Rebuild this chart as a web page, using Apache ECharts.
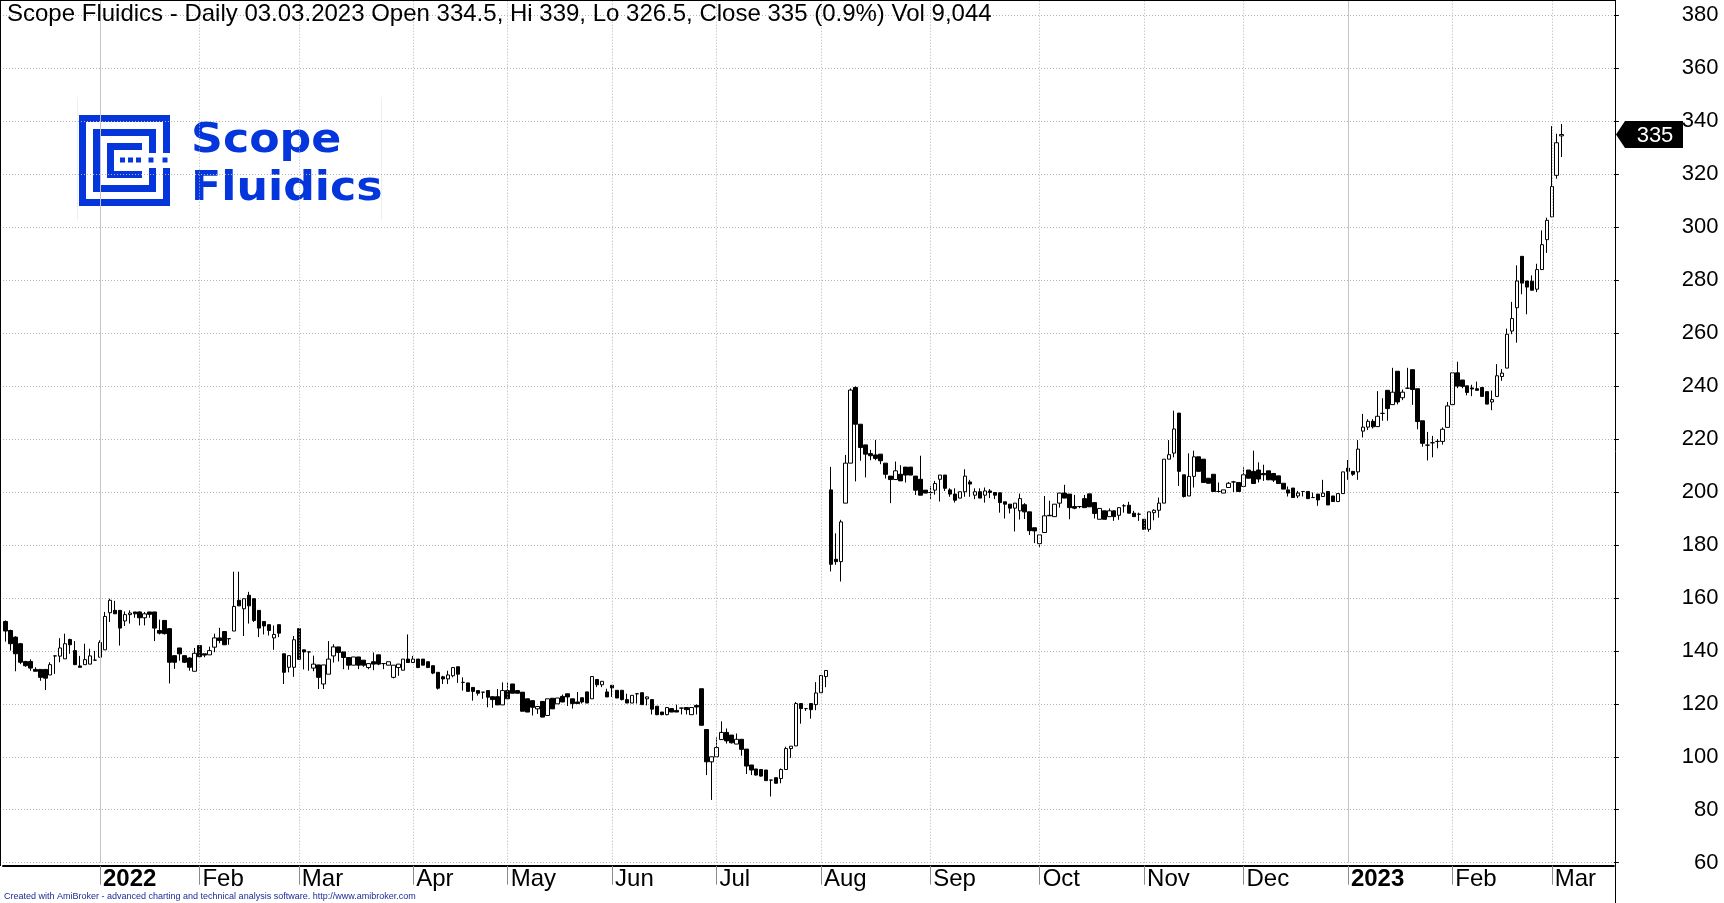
<!DOCTYPE html>
<html>
<head>
<meta charset="utf-8">
<script src="https://cdn.jsdelivr.net/npm/echarts/dist/echarts.min.js"></script>
<style>
html,body{margin:0;padding:0;background:#fff;}
#chart{width:1724px;height:903px;}
</style>
</head>
<body>
<div id="chart"></div>
<script>
// ---------------- DATA (daily OHLC) ----------------
const OPEN = [
151.1,147.7,145.2,142.7,136.0,136.0,133.0,133.0,133.0,130.9,
138.1,138.0,137.0,144.3,140.1,134.3,134.8,135.0,136.5,137.6,
140.4,154.4,155.3,155.3,151.3,153.7,154.7,154.7,152.5,154.7,
154.7,147.7,151.5,148.4,138.2,141.1,138.2,137.3,132.3,142.0,
138.9,138.5,141.4,144.9,147.3,144.6,147.5,159.1,155.9,161.0,
159.7,155.3,151.1,149.9,144.9,149.9,138.9,133.8,133.8,148.4,
140.4,139.6,133.5,134.7,127.5,131.2,138.1,141.5,139.6,137.5,
134.6,137.7,136.5,133.7,135.9,138.5,135.2,134.6,130.0,133.7,
132.7,136.9,135.6,136.9,136.9,135.9,134.4,131.9,130.2,129.4,
130.6,134.0,128.1,127.9,126.2,125.0,124.4,125.0,122.7,122.7,
119.6,125.0,127.5,125.0,124.4,121.9,121.2,118.1,120.9,115.6,
122.1,120.0,122.8,123.8,121.9,120.7,122.3,124.5,121.9,129.2,
127.2,124.5,127.0,125.1,125.1,121.6,120.3,123.8,124.2,121.9,
121.6,119.1,116.9,115.9,118.2,117.5,118.4,118.6,115.9,119.4,
125.7,110.3,98.1,100.0,106.5,109.2,108.2,104.8,106.6,102.9,
96.9,95.4,95.2,95.0,91.2,92.1,91.8,95.2,103.1,104.1,
120.1,118.2,120.1,119.7,124.2,130.3,200.8,174.6,173.7,195.8,
210.9,239.5,225.6,217.8,214.5,214.0,214.3,210.9,206.0,204.7,
206.7,209.4,209.4,206.0,204.8,200.7,199.8,200.7,204.8,206.4,
200.8,199.2,197.7,200.1,203.8,198.8,200.1,198.8,200.4,199.8,
199.7,196.3,195.4,193.9,192.9,195.2,192.5,186.5,180.5,184.7,
191.0,190.7,195.8,199.6,199.2,194.5,194.5,197.5,199.3,196.0,
189.7,192.9,190.7,192.9,191.2,194.8,195.0,192.0,191.6,189.7,
185.9,192.2,193.1,195.8,212.4,214.7,229.8,206.5,198.5,205.9,
213.3,212.4,205.2,206.7,200.2,199.6,201.7,203.8,203.6,202.1,
208.3,207.8,208.3,207.0,208.0,207.0,206.1,203.3,200.8,201.5,
198.5,200.2,200.2,197.9,199.2,198.3,200.2,198.5,196.4,199.4,
209.0,207.8,207.6,223.0,224.5,226.7,224.7,229.7,238.4,233.0,
245.6,235.6,239.2,246.2,239.0,226.9,217.7,218.6,219.1,219.1,
224.4,233.0,245.0,242.3,240.1,239.3,239.0,239.5,237.9,234.0,
236.1,243.6,246.8,260.8,269.6,289.0,279.7,279.6,276.6,284.0,
295.3,303.9,319.6,334.5
];
const CLOSE = [
147.5,142.7,138.9,135.7,134.4,133.5,132.3,130.0,129.7,134.8,
138.1,141.1,142.7,142.3,134.8,133.8,136.7,138.1,136.5,143.2,
153.0,159.1,154.0,148.6,153.7,154.3,154.0,152.5,154.0,153.8,
148.6,146.7,146.5,135.7,135.7,138.9,135.7,133.8,139.1,137.8,
138.4,140.1,144.9,143.9,142.3,144.6,156.8,157.0,159.7,157.0,
151.5,148.6,149.4,147.7,146.2,146.7,131.9,138.2,144.2,136.8,
139.6,139.6,135.0,130.0,134.7,136.9,141.5,139.4,137.5,134.6,
137.7,134.6,134.6,135.2,135.0,135.0,135.2,135.9,134.6,135.0,
136.9,135.6,136.9,133.7,134.6,133.7,131.6,125.9,129.4,130.9,
133.7,131.2,128.1,124.7,124.7,124.0,124.4,122.5,121.6,119.6,
125.0,121.9,124.0,124.0,117.2,116.9,118.7,119.0,115.0,121.9,
118.1,122.2,120.7,122.6,120.1,120.1,120.7,120.3,130.3,127.2,
128.5,122.6,126.0,122.2,121.6,120.3,123.2,123.8,119.7,122.6,
118.0,115.9,115.9,118.6,116.9,116.9,118.4,117.8,118.6,118.8,
111.9,98.1,100.0,103.5,109.2,106.0,105.3,106.6,102.8,96.5,
95.0,93.1,92.7,91.0,91.2,90.0,95.2,103.1,104.0,120.1,
118.2,118.2,117.8,124.1,130.7,132.6,172.7,173.7,188.7,210.9,
238.5,225.6,216.8,214.3,213.7,212.7,211.8,206.7,204.7,208.0,
204.2,206.4,206.4,200.7,198.8,199.6,199.8,203.2,206.4,201.4,
199.2,196.9,200.1,206.0,203.0,200.1,197.7,200.4,199.8,198.8,
196.0,195.4,193.9,195.8,197.5,192.5,185.4,185.3,183.8,191.0,
191.2,195.4,199.6,197.7,194.1,193.9,194.5,194.1,194.4,191.9,
193.8,189.7,192.9,190.7,194.1,194.8,192.0,190.7,191.6,185.9,
192.5,193.1,195.8,212.4,214.1,223.8,207.8,198.3,205.9,213.3,
207.8,203.6,203.3,200.2,200.2,200.8,203.3,203.8,200.2,206.5,
205.2,203.2,204.9,206.5,204.6,204.5,203.2,201.1,199.6,197.9,
199.6,200.2,197.5,197.9,197.0,199.6,195.1,196.4,199.4,207.6,
207.8,206.7,216.2,224.5,226.7,224.6,228.6,229.7,231.5,237.7,
234.0,237.7,239.2,238.7,226.6,218.4,217.7,218.6,219.1,223.7,
232.5,245.0,240.0,239.9,237.6,238.9,238.4,236.1,233.2,234.9,
243.9,244.9,259.6,265.5,279.7,278.9,277.4,276.2,284.0,293.4,
302.6,315.4,331.9,335.0
];
const LOW = [
143.5,140.1,132.3,135.0,134.0,132.5,132.3,128.7,125.2,130.9,
131.3,135.7,137.0,138.9,134.8,133.8,134.8,135.0,136.3,137.6,
140.4,150.9,154.0,142.0,149.4,150.3,152.5,149.6,149.6,152.5,
143.7,146.2,146.2,127.7,133.2,136.3,135.4,132.5,132.3,137.6,
137.6,138.5,139.5,142.9,142.3,142.3,147.5,157.0,145.6,150.3,
150.9,145.2,146.2,145.8,140.4,145.2,127.5,131.9,130.2,136.8,
133.0,132.5,132.3,125.6,125.6,131.2,135.6,136.0,133.1,132.9,
134.6,133.1,134.0,133.1,132.7,134.6,133.1,134.6,129.6,130.6,
132.7,135.6,135.4,133.5,134.6,133.7,131.2,125.4,127.5,127.5,
130.0,127.9,125.0,124.7,121.2,123.1,121.9,118.7,118.5,119.6,
119.6,121.9,124.0,124.0,117.2,116.9,115.6,116.2,115.0,115.6,
118.1,120.0,120.6,119.2,118.2,120.1,120.1,120.3,121.9,126.3,
126.3,122.6,122.6,122.2,121.3,120.3,120.3,120.1,119.7,119.4,
116.0,115.7,115.7,115.7,116.9,116.9,116.0,116.0,115.9,116.0,
111.9,93.1,83.7,100.0,106.5,105.0,105.0,104.8,100.4,93.5,
93.1,92.9,92.5,91.0,85.0,90.0,90.0,95.2,99.6,104.1,
112.5,117.3,114.4,117.6,124.2,126.3,170.0,172.5,166.2,195.8,
210.9,204.0,211.8,205.5,212.0,212.0,210.5,205.1,195.8,204.7,
204.2,203.6,206.4,198.9,198.8,199.6,197.3,199.0,196.4,200.4,
198.2,196.0,197.7,198.2,198.2,197.3,197.7,196.0,197.7,197.3,
192.2,190.0,191.9,185.1,189.6,189.8,183.8,180.7,179.0,184.7,
191.0,190.7,194.1,197.7,189.7,193.5,193.9,194.1,194.4,190.0,
189.7,189.7,190.7,189.1,189.5,192.2,192.0,190.7,189.1,185.9,
185.0,189.3,190.3,195.8,212.4,213.1,202.3,197.9,198.5,201.7,
207.8,203.6,203.3,200.2,199.8,199.6,201.7,200.0,200.2,202.1,
205.2,203.2,203.6,204.2,204.6,203.8,203.2,201.1,198.3,197.9,
197.7,198.3,197.5,197.9,194.8,198.3,195.1,196.4,196.4,199.4,
204.6,206.1,204.6,220.6,223.4,224.0,224.7,226.9,226.9,233.0,
233.1,234.7,239.2,232.9,223.7,217.1,211.9,213.1,216.5,217.9,
224.4,233.0,239.2,239.2,236.5,236.2,238.4,236.1,233.2,230.9,
236.1,242.0,246.8,259.6,256.4,274.7,267.1,276.2,275.5,284.0,
290.3,303.9,318.3,326.5
];
const HIGH = [
151.5,148.0,145.5,143.0,136.2,136.8,133.8,133.0,133.0,135.7,
138.1,144.8,146.5,144.6,143.7,138.1,142.7,140.8,140.0,144.0,
154.7,159.7,158.9,155.3,154.9,155.3,154.7,154.9,154.7,154.7,
154.7,151.8,151.5,148.4,138.2,141.1,138.2,137.6,141.1,142.0,
138.9,141.6,146.5,148.7,147.3,144.6,169.9,169.9,159.7,162.3,
159.7,155.3,151.1,149.9,149.6,149.9,138.9,138.2,145.6,148.4,
140.4,139.6,138.2,134.7,134.7,143.7,142.5,141.5,139.6,137.5,
137.7,137.7,136.5,135.2,139.4,138.5,135.2,135.9,134.6,135.0,
136.9,146.2,138.1,136.9,136.9,135.9,134.4,131.9,130.6,132.5,
133.7,134.0,130.0,127.9,126.2,125.0,124.4,125.0,122.7,125.6,
128.1,128.1,127.5,125.0,124.4,121.9,121.2,119.0,120.9,121.9,
122.1,122.2,123.5,123.8,121.9,124.5,122.3,124.5,130.3,129.2,
128.5,125.7,127.0,125.1,125.1,123.8,123.2,123.8,124.2,122.8,
121.6,119.1,116.9,118.6,118.2,119.7,118.4,118.6,118.6,119.8,
125.7,110.3,100.0,107.3,113.4,110.7,108.2,108.8,106.6,102.9,
96.9,95.4,95.2,95.0,91.2,92.1,95.6,103.8,104.0,120.7,
120.1,118.2,120.1,128.2,130.7,132.6,209.5,184.4,189.5,214.0,
239.1,239.9,225.6,217.8,215.9,219.7,214.3,210.9,206.0,211.5,
210.1,209.4,209.4,206.0,213.7,200.7,202.3,204.2,206.4,206.4,
201.4,201.4,200.1,208.6,204.6,201.4,201.4,201.7,201.1,199.8,
199.7,196.3,195.4,195.8,199.4,195.8,192.5,186.5,183.8,198.5,
196.7,195.4,199.6,202.7,199.2,198.9,194.7,198.9,199.3,196.0,
193.8,192.9,193.8,192.9,194.1,195.4,196.3,192.9,192.2,189.7,
192.5,193.5,197.9,212.4,219.6,230.7,229.8,206.5,214.6,215.6,
213.3,212.4,205.2,206.7,203.6,200.8,203.8,204.2,203.6,209.3,
208.3,215.6,211.2,210.3,208.0,207.0,206.1,203.3,202.1,201.5,
200.4,200.2,200.2,199.8,199.2,204.6,200.2,198.5,199.4,207.6,
212.1,207.8,219.6,229.5,227.5,227.5,238.1,235.4,238.4,246.9,
245.6,238.7,246.9,246.2,239.0,226.9,222.7,221.2,220.0,224.4,
234.0,245.0,249.2,242.3,240.1,240.5,241.7,239.5,237.9,238.3,
248.3,246.4,261.7,271.8,285.6,289.0,279.7,281.8,286.2,298.8,
303.6,338.2,335.3,339.0
];
// first trading day of each month (bar index) and its axis label
const MONTH_TICK_INDEX = [19, 39, 59, 82, 101, 122, 143, 164, 186, 208, 229, 249, 270, 291, 311];
const MONTH_TICK_LABEL = ['2022','Feb','Mar','Apr','May','Jun','Jul','Aug','Sep','Oct','Nov','Dec','2023','Feb','Mar'];
const YEAR_LABELS = ['2022','2023'];
const Y_MIN = 60, Y_STEP = 20, Y_TOP_LABEL = 380;
const EMPTY_FUTURE_SLOTS = 10;
const LAST_BAR = {name:'Scope Fluidics', period:'Daily', date:'03.03.2023', open:'334.5', hi:'339', lo:'326.5', close:'335', chg:'0.9%', vol:'9,044'};

// ---------------- BUILD ----------------
const nBars = OPEN.length;
const categories = [];
for (let i = 0; i < nBars + EMPTY_FUTURE_SLOTS; i++) categories.push(String(i));
const candles = OPEN.map((o, i) => [o, CLOSE[i], LOW[i], HIGH[i]]);
const tickMap = {};
MONTH_TICK_INDEX.forEach((idx, k) => { tickMap[idx] = MONTH_TICK_LABEL[k]; });
const isTick = (idx) => Object.prototype.hasOwnProperty.call(tickMap, idx);

const FONT = '"Liberation Sans", Arial, sans-serif';
const GRID_COLOR = '#b4b4b4';

// plot: 60 sits at y=862.7, 380 at y=15.4 -> value at the top edge (y=0)
const PLOT_BOTTOM_PX = 862.7, Y380_PX = 15.4;
const pxPerUnit = (PLOT_BOTTOM_PX - Y380_PX) / (Y_TOP_LABEL - Y_MIN);
const Y_MAX = Y_TOP_LABEL + Y380_PX / pxPerUnit;

const chart = echarts.init(document.getElementById('chart'), null, {renderer:'canvas', width:1724, height:903});

const vLines = MONTH_TICK_INDEX.map((idx, k) => {
  const year = YEAR_LABELS.indexOf(MONTH_TICK_LABEL[k]) >= 0;
  return {xAxis: String(idx), lineStyle: {color: year ? '#c4c4c4' : GRID_COLOR, type: year ? 'solid' : [1, 2], width: 1}};
});

const option = {
  animation: false,
  backgroundColor: '#ffffff',
  grid: {left: 3, right: 110.1, top: 0, bottom: 903 - PLOT_BOTTOM_PX, containLabel: false},
  xAxis: {
    type: 'category', data: categories, boundaryGap: true, offset: 3,
    axisLine: {show: true, lineStyle: {color: '#000', width: 2}},
    axisTick: {show: true, alignWithLabel: true, interval: (i) => isTick(i), length: 19, lineStyle: {color: '#8c8c8c', width: 1}},
    axisLabel: {
      show: true, interval: (i) => isTick(i), align: 'left', margin: 2, padding: [0, 0, 0, 3],
      fontFamily: FONT, fontSize: 24, color: '#000',
      formatter: (v) => {
        const lab = tickMap[Number(v)];
        if (!lab) return '';
        return YEAR_LABELS.indexOf(lab) >= 0 ? '{b|' + lab + '}' : lab;
      },
      rich: {b: {fontFamily: FONT, fontSize: 24, fontWeight: 'bold', color: '#000'}}
    },
    splitLine: {show: false}
  },
  yAxis: {
    type: 'value', position: 'right', min: Y_MIN, max: Y_MAX, interval: Y_STEP,
    axisLine: {show: false},
    axisTick: {show: true, length: 5, lineStyle: {color: '#000'}},
    axisLabel: {
      margin: 104.6, align: 'right', fontFamily: FONT, fontSize: 22, color: '#000',
      showMaxLabel: false,
      formatter: (v) => (Math.abs(v / Y_STEP - Math.round(v / Y_STEP)) < 1e-6 && v <= Y_TOP_LABEL ? String(Math.round(v)) : '')
    },
    splitLine: {show: true, lineStyle: {color: GRID_COLOR, type: [1, 2], width: 1}}
  },
  series: [{
    type: 'candlestick',
    data: candles,
    barWidth: 4,
    clip: true,
    itemStyle: {color: '#ffffff', color0: '#000000', borderColor: '#000000', borderColor0: '#000000', borderColorDoji: '#000000', borderWidth: 1},
    emphasis: {disabled: true},
    markLine: {silent: true, symbol: 'none', animation: false, label: {show: false}, data: vLines}
  }]
};
chart.setOption(option);

// ---------------- GRAPHICS (title, frame, logo, price tag) ----------------
const yClose = chart.convertToPixel({yAxisIndex: 0}, Number(LAST_BAR.close));
const blue = '#0536dc';
const g = [];
// logo (under the grid)
const logoRects = [
  [79,115,91,7],[79,199,91,7],[79,115,7,91],[163,115,7,38],[163,168,7,38],
  [93,129,63,7],[93,185,63,7],[93,129,7,63],[149,129,7,24],[149,168,7,24],
  [107,143,35,7],[107,171,35,7],[107,143,7,35],
  [120,157.5,5,5],[128,157.5,5,5],[136,157.5,5,5],[148.5,157.5,5,5],[162.5,157.5,5,5]
];
logoRects.forEach((r, k) => g.push({type:'rect', id:'lr'+k, z:-1, silent:true, shape:{x:r[0], y:r[1], width:r[2], height:r[3]}, style:{fill: blue}}));
g.push({type:'text', id:'logo1', z:-1, silent:true, x:191, y:162, scaleX:1.08, style:{text:'Scope', x:0, y:0, textVerticalAlign:'bottom', font:'bold 41px "DejaVu Sans", sans-serif', fill: blue}});
g.push({type:'text', id:'logo2', z:-1, silent:true, x:191, y:210, scaleX:1.08, style:{text:'Fluidics', x:0, y:0, textVerticalAlign:'bottom', font:'bold 41px "DejaVu Sans", sans-serif', fill: blue}});
g.push({type:'line', id:'lb1', z:-2, silent:true, shape:{x1:77.5, y1:97, x2:77.5, y2:220}, style:{stroke:'#eeeeee', lineWidth:1}});
g.push({type:'line', id:'lb2', z:-2, silent:true, shape:{x1:381.5, y1:97, x2:381.5, y2:220}, style:{stroke:'#eeeeee', lineWidth:1}});
// frame
g.push({type:'line', id:'fl', z:50, silent:true, shape:{x1:0.5, y1:0, x2:0.5, y2:866}, style:{stroke:'#000', lineWidth:1}});
g.push({type:'line', id:'ft', z:50, silent:true, shape:{x1:0, y1:0.5, x2:1616, y2:0.5}, style:{stroke:'#000', lineWidth:1}});
g.push({type:'line', id:'fr', z:50, silent:true, shape:{x1:1615.5, y1:0, x2:1615.5, y2:903}, style:{stroke:'#000', lineWidth:1}});
// title
const title = LAST_BAR.name + ' - ' + LAST_BAR.period + ' ' + LAST_BAR.date + ' Open ' + LAST_BAR.open + ', Hi ' + LAST_BAR.hi + ', Lo ' + LAST_BAR.lo + ', Close ' + LAST_BAR.close + ' (' + LAST_BAR.chg + ') Vol ' + LAST_BAR.vol;
g.push({type:'text', id:'title', z:60, silent:true, style:{text:title, x:7, y:2, textVerticalAlign:'top', font:'24px "Liberation Sans", Arial, sans-serif', fill:'#000'}});
// footer
g.push({type:'text', id:'foot', z:60, silent:true, style:{text:'Created with AmiBroker - advanced charting and technical analysis software. http://www.amibroker.com', x:4, y:892, textVerticalAlign:'top', font:'9px "Liberation Sans", Arial, sans-serif', fill:'#1f2a96'}});
// last price tag
g.push({type:'polygon', id:'tag', z:60, silent:true, shape:{points:[[1616,yClose],[1625,yClose-13.5],[1683,yClose-13.5],[1683,yClose+13.5],[1625,yClose+13.5]]}, style:{fill:'#000'}});
g.push({type:'text', id:'tagtxt', z:61, silent:true, style:{text:LAST_BAR.close, x:1655, y:yClose + 1, textAlign:'center', textVerticalAlign:'middle', font:'22px "Liberation Sans", Arial, sans-serif', fill:'#fff'}});
chart.setOption({graphic: g});
</script>
</body>
</html>
